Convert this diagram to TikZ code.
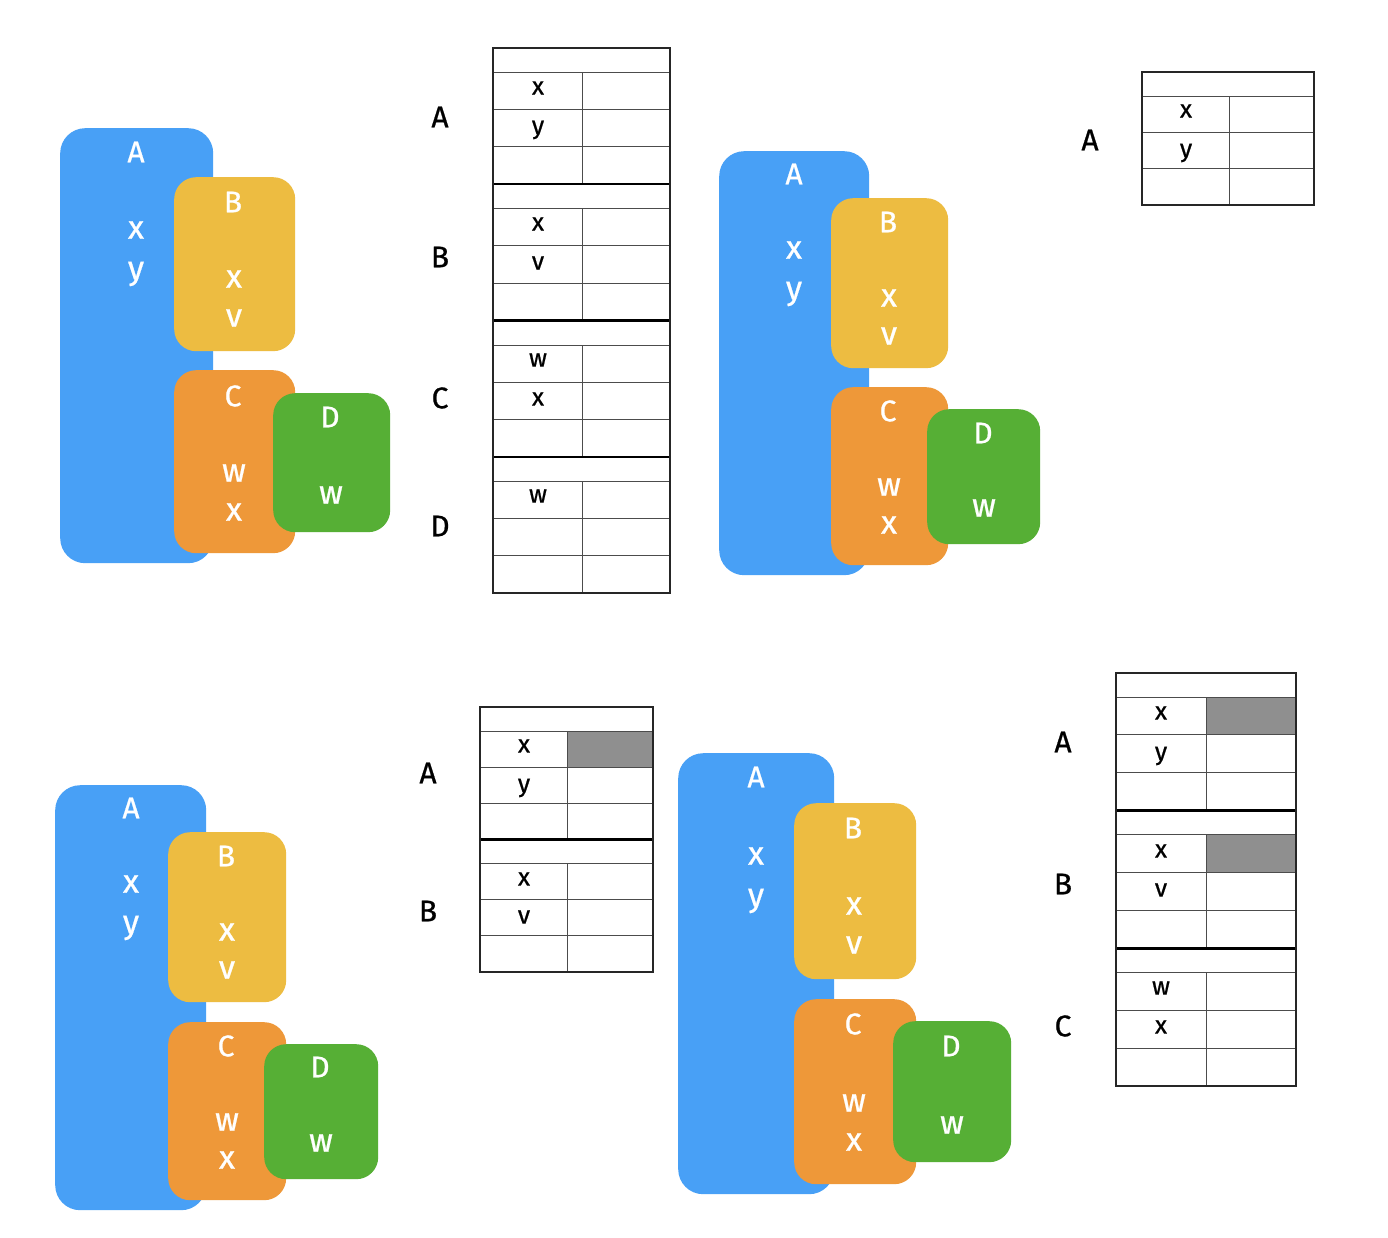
\documentclass[tikz,border=0pt]{standalone}
\usepackage{fontspec}
\setmainfont{Fira Sans}[FakeBold=0.7]
\definecolor{cA}{HTML}{48A0F6}
\definecolor{cB}{HTML}{EDBC41}
\definecolor{cC}{HTML}{EE9839}
\definecolor{cD}{HTML}{56AF35}
\definecolor{cellgray}{HTML}{8F8F8F}
\newcommand\tablegrid[7]{%
  \pgfmathsetmacro\gh{#5+3*#6}%
  \foreach \i in {1,...,#7}{%
    \pgfmathsetmacro\ga{#4+(\i-1)*\gh}%
    \pgfmathsetmacro\gb{\ga+\gh}%
    \draw[thinln] (#1,\ga+#5) -- (#2,\ga+#5);
    \draw[thinln] (#1,\ga+#5+#6) -- (#2,\ga+#5+#6);
    \draw[thinln] (#1,\ga+#5+2*#6) -- (#2,\ga+#5+2*#6);
    \draw[thinln] (#3,\ga+#5) -- (#3,\gb);
    \ifnum\i>1 \draw[thickln] (#1,\ga) -- (#2,\ga);\fi
  }%
  \pgfmathsetmacro\gend{#4+#7*\gh}%
  \draw[outerln] (#1,#4) rectangle (#2,\gend);
}
\begin{document}
\begin{tikzpicture}[x=1pt,y=-1pt,
  box/.style={inner sep=0pt, anchor=north west, draw=none},
  bigbox/.style={box, rounded corners=25pt},
  smallbox/.style={box, rounded corners=22pt},
  captxt/.style={text=white, font=\fontsize{30}{30}\selectfont, inner sep=0pt},
  low/.style={text=white, font=\fontsize{33}{33}\selectfont, inner sep=0pt},
  tlab/.style={text=black, font=\fontsize{30}{30}\selectfont, inner sep=0pt},
  tval/.style={text=black, font=\fontsize{25}{25}\selectfont, inner sep=0pt},
  thinln/.style={draw=black!70, line width=1pt},
  thickln/.style={draw=black, line width=2.5pt},
  outerln/.style={draw=black!85, line width=2pt},
]
\useasboundingbox[fill=white] (0,0) rectangle (1388,1238);

% ================= Panel 1 (top left) =================
\node[bigbox, fill=cA, minimum width=153pt, minimum height=435pt] (p1A) at (60,128) {};
\node[smallbox, fill=cB, minimum width=121pt, minimum height=174pt] (p1B) at (174,177) {};
\node[smallbox, fill=cC, minimum width=121pt, minimum height=183pt] (p1C) at (174,370) {};
\node[smallbox, fill=cD, minimum width=117pt, minimum height=139pt] (p1D) at (273,393) {};
\node[captxt] (p1At) at (136,152) {A};
\node[low] (p1Ax) at (136,230) {x};
\node[low] (p1Ay) at (136,274) {y};
\node[captxt] (p1Bt) at (233,202) {B};
\node[low] (p1Bx) at (234,279) {x};
\node[low] (p1Bv) at (234,318) {v};
\node[captxt] (p1Ct) at (233,396) {C};
\node[low] (p1Cw) at (234,473) {w};
\node[low] (p1Cx) at (234,512) {x};
\node[captxt] (p1Dt) at (330,417) {D};
\node[low] (p1Dw) at (331,495) {w};

% table 1
\tablegrid{493}{670}{582}{48}{24.5}{37.25}{4}
\node[tlab] (t1A) at (440,117) {A};
\node[tlab] (t1B) at (440,257) {B};
\node[tlab] (t1C) at (440,398) {C};
\node[tlab] (t1D) at (440,526) {D};
\node[tval] (t1a1) at (538,88) {x};
\node[tval] (t1a2) at (538,130) {y};
\node[tval] (t1b1) at (538,224) {x};
\node[tval] (t1b2) at (538,263) {v};
\node[tval] (t1c1) at (538,360) {w};
\node[tval] (t1c2) at (538,399) {x};
\node[tval] (t1d1) at (538,496) {w};

% ================= Panel 2 (top right) =================
\node[bigbox, fill=cA, minimum width=150pt, minimum height=424pt] (p2A) at (719,151) {};
\node[smallbox, fill=cB, minimum width=117pt, minimum height=170pt] (p2B) at (831,198) {};
\node[smallbox, fill=cC, minimum width=117pt, minimum height=178pt] (p2C) at (831,387) {};
\node[smallbox, fill=cD, minimum width=113pt, minimum height=135pt] (p2D) at (927,409) {};
\node[captxt] (p2At) at (794,174) {A};
\node[low] (p2Ax) at (794,250) {x};
\node[low] (p2Ay) at (794,294) {y};
\node[captxt] (p2Bt) at (888,222) {B};
\node[low] (p2Bx) at (889,298) {x};
\node[low] (p2Bv) at (889,336) {v};
\node[captxt] (p2Ct) at (888,411) {C};
\node[low] (p2Cw) at (889,487) {w};
\node[low] (p2Cx) at (889,525) {x};
\node[captxt] (p2Dt) at (983,433) {D};
\node[low] (p2Dw) at (984,508) {w};

% table 2
\tablegrid{1142}{1314}{1229}{72}{25}{36}{1}
\node[tlab] (t2A) at (1090,140) {A};
\node[tval] (t2a1) at (1186,111) {x};
\node[tval] (t2a2) at (1186,153) {y};

% ================= Panel 3 (bottom left) =================
\node[bigbox, fill=cA, minimum width=151pt, minimum height=425pt] (p3A) at (55,785) {};
\node[smallbox, fill=cB, minimum width=118pt, minimum height=170pt] (p3B) at (168,832) {};
\node[smallbox, fill=cC, minimum width=118pt, minimum height=178pt] (p3C) at (168,1022) {};
\node[smallbox, fill=cD, minimum width=114pt, minimum height=135pt] (p3D) at (264,1044) {};
\node[captxt] (p3At) at (131,808) {A};
\node[low] (p3Ax) at (131,884) {x};
\node[low] (p3Ay) at (131,928) {y};
\node[captxt] (p3Bt) at (226,856) {B};
\node[low] (p3Bx) at (227,932) {x};
\node[low] (p3Bv) at (227,970) {v};
\node[captxt] (p3Ct) at (226,1046) {C};
\node[low] (p3Cw) at (227,1122) {w};
\node[low] (p3Cx) at (227,1160) {x};
\node[captxt] (p3Dt) at (320,1067) {D};
\node[low] (p3Dw) at (321,1143) {w};

% table 3
\fill[cellgray] (567,731) rectangle (653,767);
\tablegrid{480}{653}{567}{707}{24}{36.17}{2}
\node[tlab] (t3A) at (428,773) {A};
\node[tlab] (t3B) at (428,911) {B};
\node[tval] (t3a1) at (524,746) {x};
\node[tval] (t3a2) at (524,788) {y};
\node[tval] (t3b1) at (524,879) {x};
\node[tval] (t3b2) at (524,917) {v};

% ================= Panel 4 (bottom right) =================
\node[bigbox, fill=cA, minimum width=156pt, minimum height=441pt] (p4A) at (678,753) {};
\node[smallbox, fill=cB, minimum width=122pt, minimum height=176pt] (p4B) at (794,803) {};
\node[smallbox, fill=cC, minimum width=122pt, minimum height=185pt] (p4C) at (794,999) {};
\node[smallbox, fill=cD, minimum width=118pt, minimum height=141pt] (p4D) at (893,1021) {};
\node[captxt] (p4At) at (756,777) {A};
\node[low] (p4Ax) at (756,856) {x};
\node[low] (p4Ay) at (756,901) {y};
\node[captxt] (p4Bt) at (853,828) {B};
\node[low] (p4Bx) at (854,906) {x};
\node[low] (p4Bv) at (854,945) {v};
\node[captxt] (p4Ct) at (853,1024) {C};
\node[low] (p4Cw) at (854,1103) {w};
\node[low] (p4Cx) at (854,1142) {x};
\node[captxt] (p4Dt) at (951,1046) {D};
\node[low] (p4Dw) at (952,1125) {w};

% table 4
\fill[cellgray] (1206,697) rectangle (1296,735);
\fill[cellgray] (1206,834) rectangle (1296,872);
\tablegrid{1116}{1296}{1206}{673}{24}{37.9}{3}
\node[tlab] (t4A) at (1063,742) {A};
\node[tlab] (t4B) at (1063,884) {B};
\node[tlab] (t4C) at (1063,1026) {C};
\node[tval] (t4a1) at (1161,713) {x};
\node[tval] (t4a2) at (1161,756) {y};
\node[tval] (t4b1) at (1161,851) {x};
\node[tval] (t4b2) at (1161,890) {v};
\node[tval] (t4c1) at (1161,988) {w};
\node[tval] (t4c2) at (1161,1027) {x};
\end{tikzpicture}
\end{document}
